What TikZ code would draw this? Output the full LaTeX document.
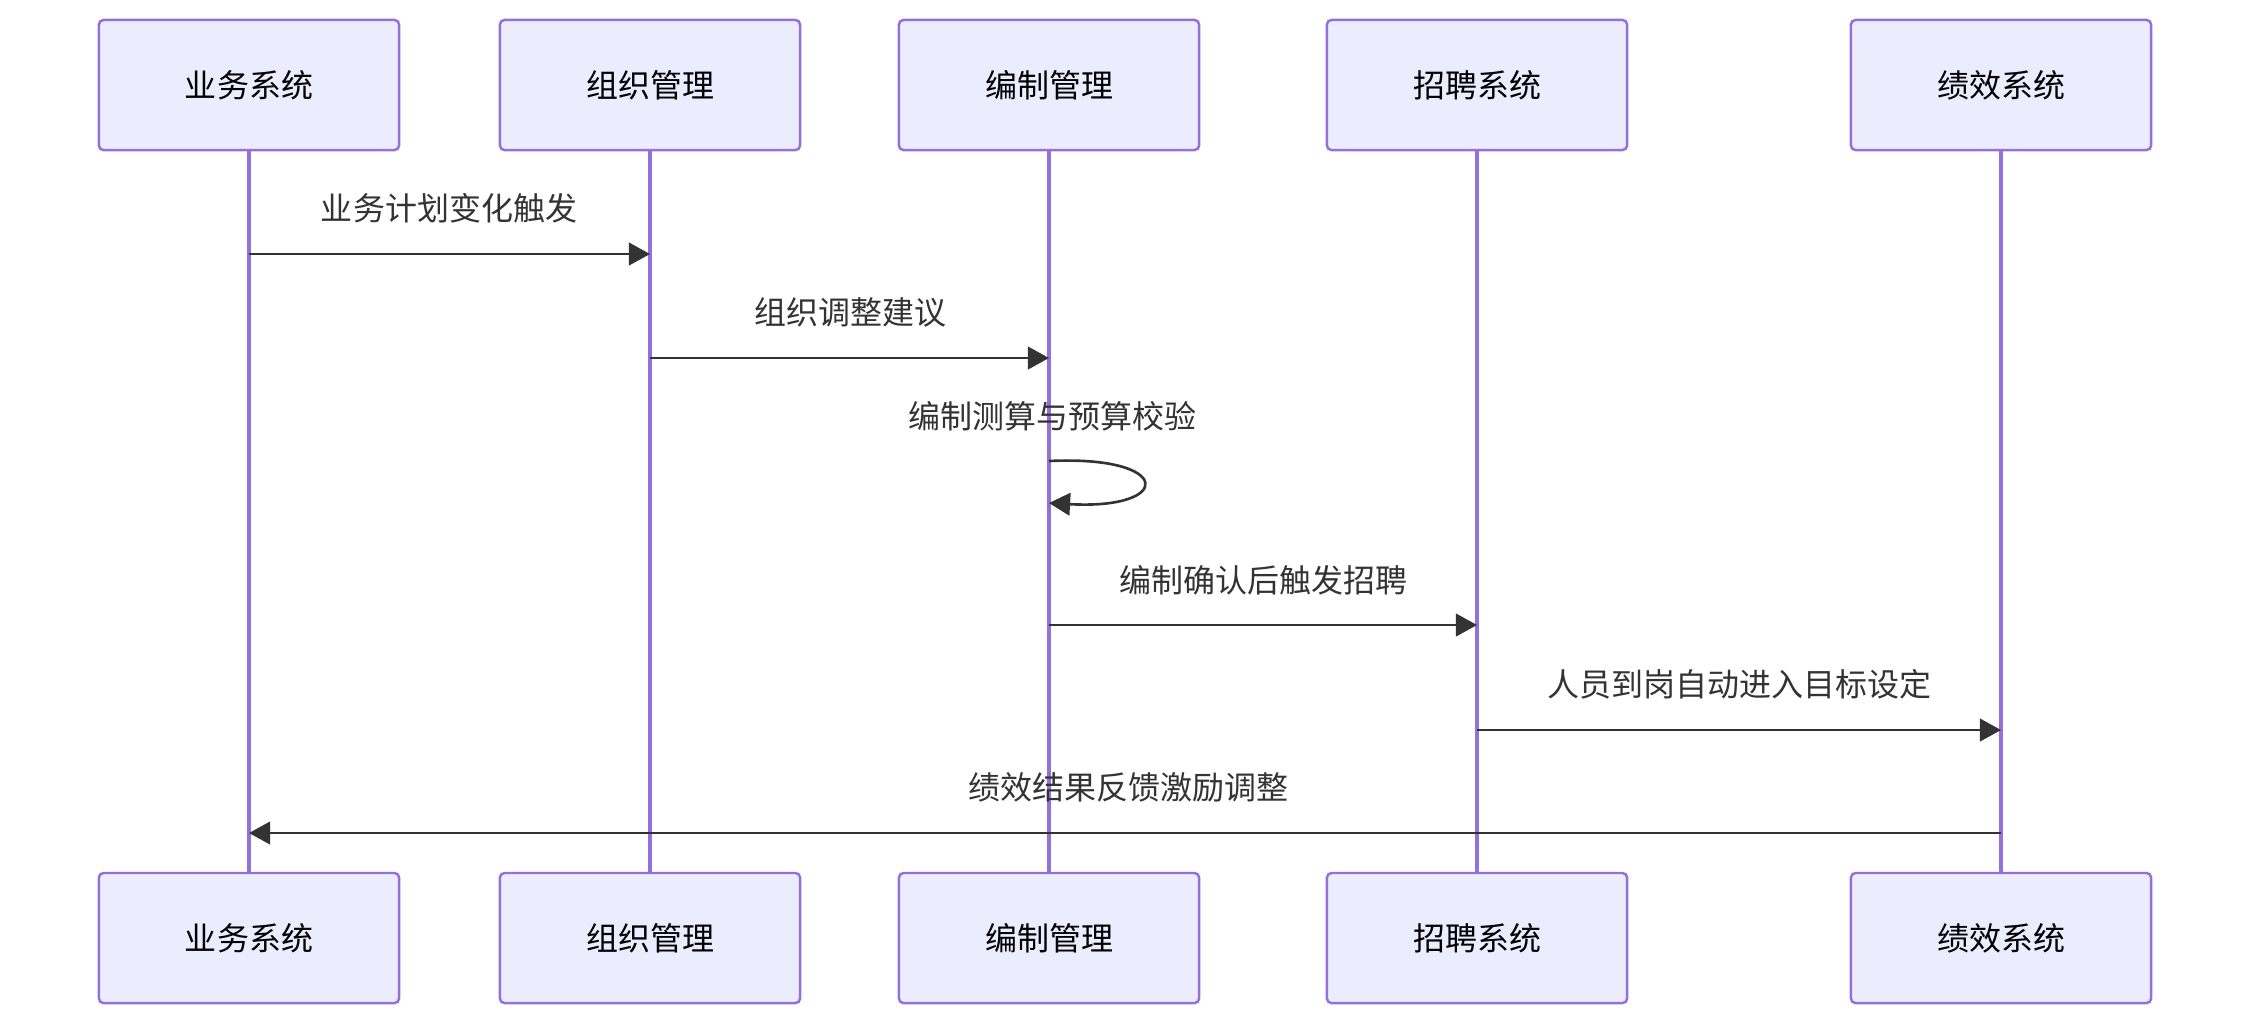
\documentclass[tikz,border=0pt]{standalone}
\usepackage{fontspec}
\setmainfont{Noto Sans CJK SC}
\usetikzlibrary{arrows.meta}
\definecolor{actorfill}{HTML}{ECECFF}
\definecolor{actorline}{HTML}{9370DB}
\definecolor{msgline}{HTML}{333333}

\begin{document}
\begin{tikzpicture}[x=0.01cm,y=-0.01cm,
  actor/.style={draw=actorline,fill=actorfill,line width=0.7pt,rounded corners=1.3pt,
    minimum width=3cm,minimum height=1.3cm,inner sep=0pt,font=\fontsize{9.1}{11}\selectfont},
  lifeline/.style={actorline,line width=1.2pt},
  msg/.style={msgline,line width=0.75pt,-{Triangle[length=6pt,width=6.4pt]}},
  msgtext/.style={text=msgline,inner sep=0pt,font=\fontsize{9.1}{11}\selectfont}]
\useasboundingbox (0,0) rectangle (2252,1026);
\node[actor] (bizTop) at (249,85) {业务系统};
\node[actor] (orgTop) at (650,85) {组织管理};
\node[actor] (hcTop) at (1049,85) {编制管理};
\node[actor] (recTop) at (1477,85) {招聘系统};
\node[actor] (perfTop) at (2001,85) {绩效系统};
\node[actor] (bizBot) at (249,938) {业务系统};
\node[actor] (orgBot) at (650,938) {组织管理};
\node[actor] (hcBot) at (1049,938) {编制管理};
\node[actor] (recBot) at (1477,938) {招聘系统};
\node[actor] (perfBot) at (2001,938) {绩效系统};
\draw[lifeline] (bizTop) -- (bizBot);
\draw[lifeline] (orgTop) -- (orgBot);
\draw[lifeline] (hcTop) -- (hcBot);
\draw[lifeline] (recTop) -- (recBot);
\draw[lifeline] (perfTop) -- (perfBot);
\node[msgtext] (m1) at (449,208) {业务计划变化触发};
\draw[msg] (bizTop |- 0,254) -- (orgTop |- 0,254);
\node[msgtext] (m2) at (850,312) {组织调整建议};
\draw[msg] (orgTop |- 0,358) -- (hcTop |- 0,358);
\node[msgtext] (m3) at (1052,416) {编制测算与预算校验};
\coordinate (loopS) at (hcTop |- 0,461);
\coordinate (loopE) at (hcTop |- 0,503);
\draw[msg] (loopS) .. controls (1174,455) and (1174,510) .. (loopE);
\node[msgtext] (m4) at (1263,580) {编制确认后触发招聘};
\draw[msg] (hcTop |- 0,625) -- (recTop |- 0,625);
\node[msgtext] (m5) at (1739,684) {人员到岗自动进入目标设定};
\draw[msg] (recTop |- 0,730) -- (perfTop |- 0,730);
\node[msgtext] (m6) at (1128,787) {绩效结果反馈激励调整};
\draw[msg] (perfTop |- 0,833) -- (bizTop |- 0,833);
\end{tikzpicture}
\end{document}
